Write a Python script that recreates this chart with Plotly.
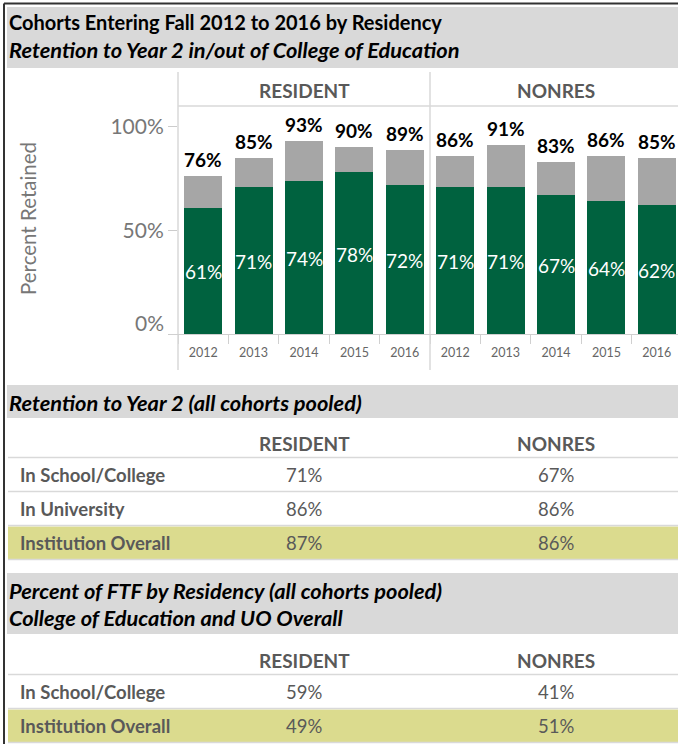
import plotly.graph_objects as go

# ---------------- data ----------------
years = ["2012", "2013", "2014", "2015", "2016"]
res_total = [76, 85, 93, 90, 89]
res_in_college = [61, 71, 74, 78, 72]
nonres_total = [86, 91, 83, 86, 85]
nonres_in_college = [71, 71, 67, 64, 62]

panel_names = ["RESIDENT", "NONRES"]

ret_rows = ["In School/College", "In University", "Institution Overall"]
ret_resident = [71, 86, 87]
ret_nonres = [67, 86, 86]

ftf_rows = ["In School/College", "Institution Overall"]
ftf_resident = [59, 49]
ftf_nonres = [41, 51]

title1 = "Cohorts Entering Fall 2012 to 2016 by Residency"
title2 = "Retention to Year 2 in/out of College of Education"
sec2_title = "Retention to Year 2 (all cohorts pooled)"
sec3_title1 = "Percent of FTF by Residency (all cohorts pooled)"
sec3_title2 = "College of Education and UO Overall"

# ---------------- style ----------------
W, H = 678, 744
FONT = "Lato"
GREEN = "#00623f"
GRAY = "#a6a6a6"
BAND = "#d9d9d9"
HIGHLIGHT = "#dbdb8e"
TXT = "#595959"
LINE = "#d9d9d9"


def px(x):
    return x / W


def py(y):
    return 1 - y / H


fig = go.Figure()

# bars
panels = [
    (res_total, res_in_college, "x", "y"),
    (nonres_total, nonres_in_college, "x2", "y2"),
]
for total, inc, xa, ya in panels:
    rest = [t - i for t, i in zip(total, inc)]
    fig.add_trace(go.Bar(x=years, y=inc, marker=dict(color=GREEN, line=dict(width=0)),
                         xaxis=xa, yaxis=ya, showlegend=False, hoverinfo="skip"))
    fig.add_trace(go.Bar(x=years, y=rest, marker=dict(color=GRAY, line=dict(width=0)),
                         xaxis=xa, yaxis=ya, showlegend=False, hoverinfo="skip"))

ann = []
shapes = []

# bar labels (category axes take the category index as position)
for total, inc, xa, ya in panels:
    for k, (t, i) in enumerate(zip(total, inc)):
        ann.append(dict(x=k, y=t, xref=xa, yref=ya, text=f"<b>{t}%</b>", showarrow=False,
                        yanchor="bottom", yshift=3, font=dict(family=FONT, size=19, color="black")))
        ann.append(dict(x=k, y=i / 2, xref=xa, yref=ya, text=f"{i}%", showarrow=False,
                        yanchor="middle", yshift=-1, font=dict(family=FONT, size=19, color="white")))

y_dom = [py(334), py(106)]
xcommon = dict(type="category", tickson="boundaries", ticks="outside", ticklen=9, tickcolor="#d0d0d0",
               tickfont=dict(family=FONT, size=12.5, color="#666666"), ticklabelstandoff=9,
               showgrid=False, zeroline=False, showline=False, fixedrange=True)
fig.update_layout(
    width=W, height=H, margin=dict(l=0, r=0, t=0, b=0),
    paper_bgcolor="white", plot_bgcolor="white",
    barmode="stack", bargap=0.246,
    font=dict(family=FONT),
    xaxis=dict(domain=[px(178), px(430)], range=[-0.5, 4.5], anchor="y", **xcommon),
    xaxis2=dict(domain=[px(430), 1], range=[-0.5, -0.5 + 248 / 50.4], anchor="y2", **xcommon),
    yaxis=dict(domain=y_dom, range=[0, 110], tickvals=[0, 50, 100], ticktext=["", "50%", "100%"],
               ticks="outside", ticklen=9, tickcolor="#cccccc",
               tickfont=dict(family=FONT, size=21, color="#777777"), showgrid=False,
               zeroline=False, showline=False, anchor="x", fixedrange=True),
    yaxis2=dict(domain=y_dom, range=[0, 110], showticklabels=False, ticks="", showgrid=False,
                zeroline=False, showline=False, anchor="x2", fixedrange=True),
)

# 0% label (shifted up like the reference) and axis title
ann.append(dict(x=px(166), y=py(322), xref="paper", yref="paper", text="0%", showarrow=False,
                xanchor="right", yanchor="middle", font=dict(family=FONT, size=21, color="#777777")))
ann.append(dict(x=px(28), y=py(219), xref="paper", yref="paper", text="Percent Retained",
                showarrow=False, textangle=-90, xanchor="center", yanchor="middle",
                font=dict(family=FONT, size=20.5, color="#777777")))

# bands
for y0, y1 in [(7, 68), (385, 418), (573, 634)]:
    shapes.append(dict(type="rect", xref="paper", yref="paper", x0=px(7), x1=1, y0=py(y0), y1=py(y1),
                       fillcolor=BAND, line=dict(width=0), layer="below"))

# chart grid lines
shapes.append(dict(type="line", xref="paper", yref="paper", x0=px(178), x1=px(178), y0=py(72), y1=py(370),
                   line=dict(color=LINE, width=1.5)))
shapes.append(dict(type="line", xref="paper", yref="paper", x0=px(430), x1=px(430), y0=py(72), y1=py(370),
                   line=dict(color=LINE, width=1.5)))
shapes.append(dict(type="line", xref="paper", yref="paper", x0=px(178), x1=1, y0=py(106), y1=py(106),
                   line=dict(color=LINE, width=1.5)))
shapes.append(dict(type="line", xref="paper", yref="paper", x0=px(170), x1=1, y0=py(334.5), y1=py(334.5),
                   line=dict(color="#d0d0d0", width=1.2)))

# outer border
shapes.append(dict(type="line", xref="paper", yref="paper", x0=px(4), x1=1, y0=py(3.5), y1=py(3.5),
                   line=dict(color="#333333", width=2)))
shapes.append(dict(type="line", xref="paper", yref="paper", x0=px(4), x1=px(4), y0=py(3.5), y1=0,
                   line=dict(color="#333333", width=2)))


# titles
def title_ann(text, y, italic=False):
    t = f"<b><i>{text}</i></b>" if italic else f"<b>{text}</b>"
    size = 21.8 if italic else 20
    return dict(x=px(7), y=py(y), xref="paper", yref="paper", text=t, showarrow=False,
                xanchor="left", yanchor="middle", font=dict(family=FONT, size=size, color="black"))


ann.append(title_ann(title1, 22))
ann.append(title_ann(title2, 50, italic=True))
ann.append(title_ann(sec2_title, 402, italic=True))
ann.append(title_ann(sec3_title1, 590, italic=True))
ann.append(title_ann(sec3_title2, 617, italic=True))

# chart panel headers
for name, cx in zip(panel_names, [304, 556]):
    ann.append(dict(x=px(cx), y=py(90), xref="paper", yref="paper", text=f"<b>{name}</b>",
                    showarrow=False, xanchor="center", yanchor="middle",
                    font=dict(family=FONT, size=19, color=TXT)))


# tables
def add_table(header_y, rows, res_vals, non_vals, highlight_last=True):
    for name, cx in zip(panel_names, [304, 556]):
        ann.append(dict(x=px(cx), y=py(header_y), xref="paper", yref="paper", text=f"<b>{name}</b>",
                        showarrow=False, xanchor="center", yanchor="middle",
                        font=dict(family=FONT, size=19, color=TXT)))
    top = header_y + 14.5
    shapes.append(dict(type="line", xref="paper", yref="paper", x0=px(8), x1=1, y0=py(top), y1=py(top),
                       line=dict(color=LINE, width=1.5)))
    rh = 34
    for k, (lab, rv, nv) in enumerate(zip(rows, res_vals, non_vals)):
        y0 = top + k * rh
        y1 = y0 + rh
        if highlight_last and k == len(rows) - 1:
            shapes.append(dict(type="rect", xref="paper", yref="paper", x0=px(8), x1=1,
                               y0=py(y0 + 1), y1=py(y1), fillcolor=HIGHLIGHT, line=dict(width=0),
                               layer="below"))
        shapes.append(dict(type="line", xref="paper", yref="paper", x0=px(8), x1=1, y0=py(y1), y1=py(y1),
                           line=dict(color=LINE, width=1.5)))
        yc = (y0 + y1) / 2
        ann.append(dict(x=px(18), y=py(yc), xref="paper", yref="paper", text=f"<b>{lab}</b>",
                        showarrow=False, xanchor="left", yanchor="middle",
                        font=dict(family=FONT, size=18.5, color=TXT)))
        for val, cx in zip([rv, nv], [304, 556]):
            ann.append(dict(x=px(cx), y=py(yc), xref="paper", yref="paper", text=f"{val}%",
                            showarrow=False, xanchor="center", yanchor="middle",
                            font=dict(family=FONT, size=18.5, color=TXT)))


add_table(443, ret_rows, ret_resident, ret_nonres)
add_table(660, ftf_rows, ftf_resident, ftf_nonres)

fig.update_layout(annotations=ann, shapes=shapes)
fig.write_html("out.html", config={"displayModeBar": False},
               post_script="document.body.style.margin='0';document.body.style.overflow='hidden';")
